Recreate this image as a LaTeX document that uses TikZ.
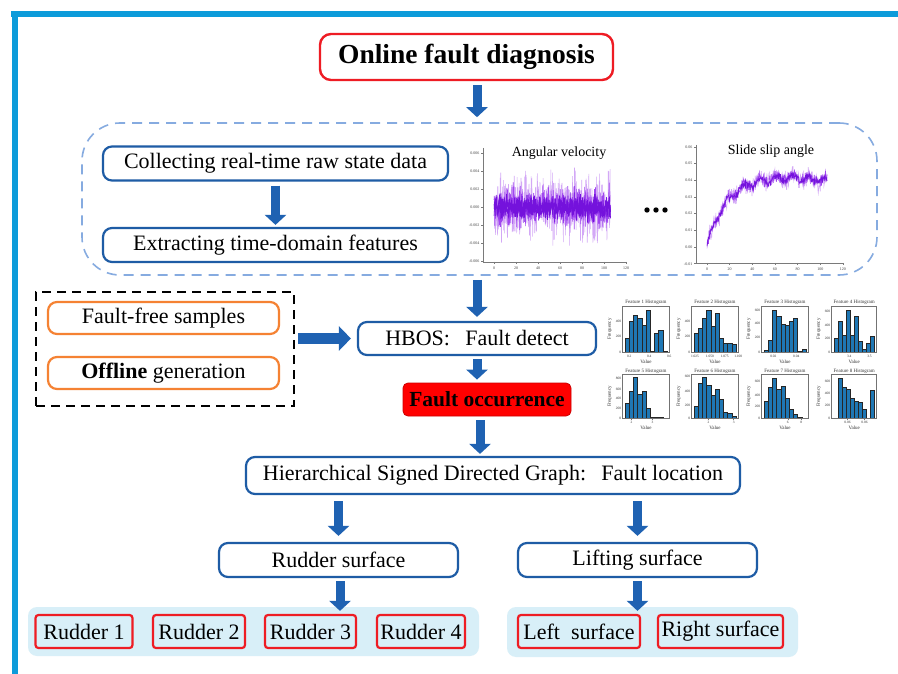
\documentclass[tikz,border=0pt]{standalone}
\usepackage{fontspec}
\setmainfont{Liberation Serif}
\usetikzlibrary{arrows.meta}
\definecolor{frameblue}{HTML}{0C9BDA}
\definecolor{boxblue}{HTML}{1E5CA5}
\definecolor{arrowblue}{HTML}{1F62B2}
\definecolor{boxred}{HTML}{EE1C24}
\definecolor{boxorange}{HTML}{F58233}
\definecolor{dashblue}{HTML}{86ABE0}
\definecolor{lightbg}{HTML}{D8EFF8}
\definecolor{purdark}{HTML}{7412DC}
\definecolor{purmid}{HTML}{A046F0}
\definecolor{purlight}{HTML}{D3A8F6}
\definecolor{histblue}{HTML}{1F77B4}
\definecolor{axgray}{HTML}{7A7A7A}

\newcommand\myhist[9]{%
 \foreach \h [count=\k from 0] in {#6}{%
   \filldraw[histbar] ({#1+(#2-#1)*(0.05+0.09*\k)},#4) rectangle ({#1+(#2-#1)*(0.14+0.09*\k)},{#4-\h*(#4-#3)});
 }%
 \draw[histaxis] (#1,#3) rectangle (#2,#4);
 \node[histtitle] (#9t) at ({(#1+#2)/2},{#3-3.2}) {#5};
 \node[histlbl, rotate=90] (#9f) at ({#1-13},{(#3+#4)/2}) {Frequency};
 \node[histlbl] (#9v) at ({(#1+#2)/2},{#4+10}) {Value};
 \foreach \f/\l [count=\j] in {#7}{%
   \draw[histaxis] ({#1+\f*(#2-#1)},#4) -- ++(0,1.2);
   \node[histtick] (#9x\j) at ({#1+\f*(#2-#1)},{#4+4.5}) {\l};
 }%
 \foreach \f/\l [count=\j] in {#8}{%
   \draw[histaxis] (#1,{#4-\f*(#4-#3)}) -- ++(-1.2,0);
   \node[histtick, anchor=east] (#9y\j) at ({#1-1.2},{#4-\f*(#4-#3)}) {\l};
 }%
}

\begin{document}
\begin{tikzpicture}[x=1pt,y=-1pt,
  txt/.style={font=\fontsize{22}{24}\selectfont, text=black},
  bluebox/.style={draw=boxblue, line width=2.2pt, rounded corners=9pt, fill=white, inner sep=0pt, txt},
  redbox/.style={draw=boxred, line width=2.4pt, rounded corners=11pt, fill=white, inner sep=0pt},
  orangebox/.style={draw=boxorange, line width=2.2pt, rounded corners=9pt, fill=white, inner sep=0pt, txt},
  leafbox/.style={draw=boxred, line width=2.2pt, rounded corners=3pt, fill=lightbg, inner sep=0pt, minimum height=33pt, txt},
  groupbg/.style={fill=lightbg, rounded corners=9pt, inner sep=0pt},
  barrow/.style={draw=arrowblue, line width=9pt, -{Triangle[length=10pt,width=21pt]}},
  hbarrow/.style={draw=arrowblue, line width=11pt, -{Triangle[length=12pt,width=24pt]}},
  plotax/.style={draw=axgray, line width=0.5pt},
  tinylbl/.style={font=\fontsize{4}{4}\selectfont, text=black!75, inner sep=0.5pt},
  plottitle/.style={font=\fontsize{14}{16}\selectfont, text=black, inner sep=0pt},
  histbar/.style={fill=histblue, draw=black!85, line width=0.35pt},
  histaxis/.style={draw=black!55, line width=0.45pt},
  histtitle/.style={font=\fontsize{5}{5}\selectfont, text=black!80, inner sep=0pt},
  histlbl/.style={font=\fontsize{5}{5}\selectfont, text=black!80, inner sep=0pt},
  histtick/.style={font=\fontsize{3.5}{3.5}\selectfont, text=black!80, inner sep=0.3pt}
]
\useasboundingbox (0,0) rectangle (898,674);
\fill[white] (0,0) rectangle (898,674);
% frame
\fill[frameblue] (11,11) rectangle (898,17);
\fill[frameblue] (12,11) rectangle (17.5,674);

% dashed region
\node[draw=dashblue, line width=1.6pt, dash pattern=on 10pt off 7pt, rounded corners=38pt, minimum width=795pt, minimum height=152pt, inner sep=0pt] (dash) at (479.5,199) {};

% top box
\node[redbox, minimum width=293pt, minimum height=46pt, font=\fontsize{27.5}{30}\selectfont\bfseries] (on) at (466.5,57) {Online fault diagnosis};

\node[bluebox, minimum width=345pt, minimum height=34pt] (c1) at (275.5,163.5) {Collecting real-time raw state data};
\node[bluebox, minimum width=345pt, minimum height=34pt] (c2) at (275.5,245) {Extracting time-domain features};

% offline group
\node[draw=black, line width=2pt, dash pattern=on 9pt off 6pt, minimum width=258pt, minimum height=114pt, inner sep=0pt] (ob) at (165,349) {};
\node[orangebox, minimum width=231pt, minimum height=32pt] (ff) at (163.5,318) {Fault-free samples};
\node[orangebox, minimum width=231pt, minimum height=32pt] (og) at (163.5,373) {\textbf{Offline} generation};

\node[bluebox, minimum width=238pt, minimum height=33pt] (hb) at (477,338.5) {HBOS:\hspace{0.7em}Fault detect};
\node[draw=red!80!black, fill=red, line width=0.8pt, rounded corners=5pt, minimum width=168pt, minimum height=33pt, inner sep=0pt, font=\fontsize{21.5}{23}\selectfont\bfseries, text=black] (fo) at (487,399.5) {Fault occurrence};

\node[bluebox, minimum width=494pt, minimum height=37pt] (hs) at (493,475.5) {Hierarchical Signed Directed Graph:\hspace{0.7em}Fault location};

\node[bluebox, minimum width=239pt, minimum height=34pt] (rs) at (338.5,560) {Rudder surface};
\node[bluebox, minimum width=239pt, minimum height=34pt] (ls) at (637.5,560) {Lifting surface};

\node[groupbg, minimum width=451pt, minimum height=49pt] (bg1) at (253.5,631.5) {};
\node[groupbg, minimum width=291pt, minimum height=50pt] (bg2) at (652.5,632) {};

\node[leafbox, minimum width=97pt] (r1) at (84,631.5) {Rudder 1};
\node[leafbox, minimum width=92pt] (r2) at (199,631.5) {Rudder 2};
\node[leafbox, minimum width=91pt] (r3) at (310.5,631.5) {Rudder 3};
\node[leafbox, minimum width=88pt] (r4) at (421,631.5) {Rudder 4};
\node[leafbox, minimum width=122pt] (lf) at (579,631.5) {Left\hspace{0.5em}surface};
\node[leafbox, minimum width=125pt] (rt) at (720.5,631.5) {Right surface};

% arrows
\draw[barrow, shorten <=4pt, shorten >=5pt] (on.south -| hb.north) -- (dash.north -| hb.north);
\draw[barrow, shorten <=4pt, shorten >=2pt] (c1.south) -- (c2.north);
\draw[barrow, shorten <=4pt, shorten >=4pt] (dash.south -| hb.north) -- (hb.north);
\draw[hbarrow, shorten <=3pt, shorten >=6pt] (ob.east |- hb.west) -- (hb.west);
\draw[barrow, shorten <=3pt, shorten >=3pt] (hb.south) -- (hb.south |- fo.north);
\draw[barrow, shorten <=4pt, shorten >=2pt] ([xshift=3pt]fo.south -| hb.south) -- ([xshift=3pt]hs.north -| hb.south);
\draw[barrow, shorten <=6pt, shorten >=6pt] (hs.south -| rs.north) -- (rs.north);
\draw[barrow, shorten <=6pt, shorten >=6pt] (hs.south -| ls.north) -- (ls.north);
\draw[barrow, shorten <=3pt, shorten >=3pt] ([xshift=1.5pt]rs.south) -- ([xshift=1.5pt]rs.south |- r3.north);
\draw[barrow, shorten <=3pt, shorten >=3pt] (ls.south) -- (ls.south |- lf.north);

% ---- plot 1: angular velocity
\pgfmathsetseed{11}
\draw[plotax] (483,148) -- (483,262) -- (627,262);
\foreach \t [count=\i] in {0,20,...,120}{
  \draw[plotax] ({494+1.1*\t},262) -- ({494+1.1*\t},264);
  \node[tinylbl] (pa\i) at ({494+1.1*\t},268) {\t};
}
\foreach \v/\l [count=\i] in {-3/-0.006,-2/-0.004,-1/-0.002,0/0.000,1/0.002,2/0.004,3/0.006}{
  \draw[plotax] (483,{207-18*\v}) -- (481,{207-18*\v});
  \node[tinylbl, anchor=east] (pb\i) at (480,{207-18*\v}) {\l};
}
\draw[purlight, line width=0.55pt] plot[domain=0:106, samples=450] ({494+1.1*\x},{207+21*(rand+rand)});
\draw[purmid, line width=0.55pt] plot[domain=0:106, samples=450] ({494+1.1*\x},{207+13*(rand+rand)});
\draw[purdark, line width=0.6pt] plot[domain=0:106, samples=450] ({494+1.1*\x},{207+8*(rand+rand)});
\draw[purdark, line width=0.6pt] plot[domain=0:106, samples=450] ({494+1.1*\x},{207+6*(rand+rand)});
\node[plottitle] (p1t) at (559,153) {Angular velocity};

% dots
\fill[black] (647,210) circle (2.7pt);
\fill[black] (656,210) circle (2.7pt);
\fill[black] (665,210) circle (2.7pt);

% ---- plot 2: slide slip angle
\draw[plotax] (696,145) -- (696,263) -- (843,263);
\foreach \t [count=\i] in {0,20,...,120}{
  \draw[plotax] ({707+1.133*\t},263) -- ({707+1.133*\t},265);
  \node[tinylbl] (pc\i) at ({707+1.133*\t},269) {\t};
}
\foreach \v/\l [count=\i] in {-1/-0.01,0/0.00,1/0.01,2/0.02,3/0.03,4/0.04,5/0.05,6/0.06}{
  \draw[plotax] (696,{247-16.7*\v}) -- (694,{247-16.7*\v});
  \node[tinylbl, anchor=east] (pd\i) at (693,{247-16.7*\v}) {\l};
}
\draw[purlight, line width=0.55pt] plot[domain=0:106, samples=300] ({707+1.133*\x},{247-70*(1-exp(-\x/17))-3*sin(\x*25)+0.12*max(\x-75,0)-6*(rand+rand)});
\draw[purmid, line width=0.55pt] plot[domain=0:106, samples=300] ({707+1.133*\x},{247-70*(1-exp(-\x/17))-3*sin(\x*25)+0.12*max(\x-75,0)-4*(rand+rand)});
\draw[purdark, line width=0.6pt] plot[domain=0:106, samples=300] ({707+1.133*\x},{247-70*(1-exp(-\x/17))-3*sin(\x*25)+0.12*max(\x-75,0)-2.5*(rand+rand)});
\node[plottitle] (p2t) at (771,151) {Slide slip angle};

% ---- histograms
\myhist{622.7}{669.3}{306}{352}{Feature 1 Histogram}{0.31,0.67,0.80,0.73,0.58,0.91,0.01,0.42,0.47,0.02}{0.14/0.2,0.57/0.4,1.0/0.6}{0/0,0.33/200,0.66/400}{ha}
\myhist{691.7}{738.3}{306}{352}{Feature 2 Histogram}{0.42,0.51,0.73,0.91,0.56,0.85,0.31,0.2,0.2,0.18}{0.07/1.025,0.39/1.050,0.71/1.075,1.0/1.100}{0/0,0.33/200,0.66/400}{hb}
\myhist{761.7}{808.3}{306}{352}{Feature 3 Histogram}{0.04,0.26,0.91,0.78,0.61,0.58,0.68,0.73,0.01,0.06}{0.25/0.02,0.74/0.04}{0/0,0.31/200,0.62/400,0.91/600}{hc}
\myhist{831.7}{876.7}{306}{352}{Feature 4 Histogram}{0.31,0.66,0.36,0.91,0.36,0.78,0.24,0.07,0.2,0.34}{0.39/3.4,0.84/3.5}{0/0,0.29/200,0.58/400,0.88/600}{hd}
\myhist{622.7}{669.3}{374.5}{418.3}{Feature 5 Histogram}{0.34,0.62,0.95,0.55,0.62,0.23,0.03,0.03,0.03}{0.19/2,0.64/3}{0/0,0.23/200,0.45/400,0.67/600,0.91/800}{he}
\myhist{691.7}{738.3}{374.5}{418.3}{Feature 6 Histogram}{0.27,0.80,0.93,0.76,0.52,0.67,0.44,0.14,0.11,0.05}{0.36/2,0.9/3}{0/0,0.3/200,0.62/400,0.95/600}{hf}
\myhist{761.7}{808.3}{374.5}{418.3}{Feature 7 Histogram}{0.38,0.72,0.92,0.67,0.74,0.45,0.21,0.09,0.02}{0.56/6,0.85/8}{0/0,0.27/200,0.53/400,0.85/600}{hg}
\myhist{831.7}{876.7}{374.5}{418.3}{Feature 8 Histogram}{0.01,0.92,0.70,0.67,0.47,0.39,0.37,0.2,0,0.64}{0.35/0.06,0.73/0.06}{0/0,0.29/200,0.57/400,0.85/600}{hh}
\end{tikzpicture}
\end{document}
